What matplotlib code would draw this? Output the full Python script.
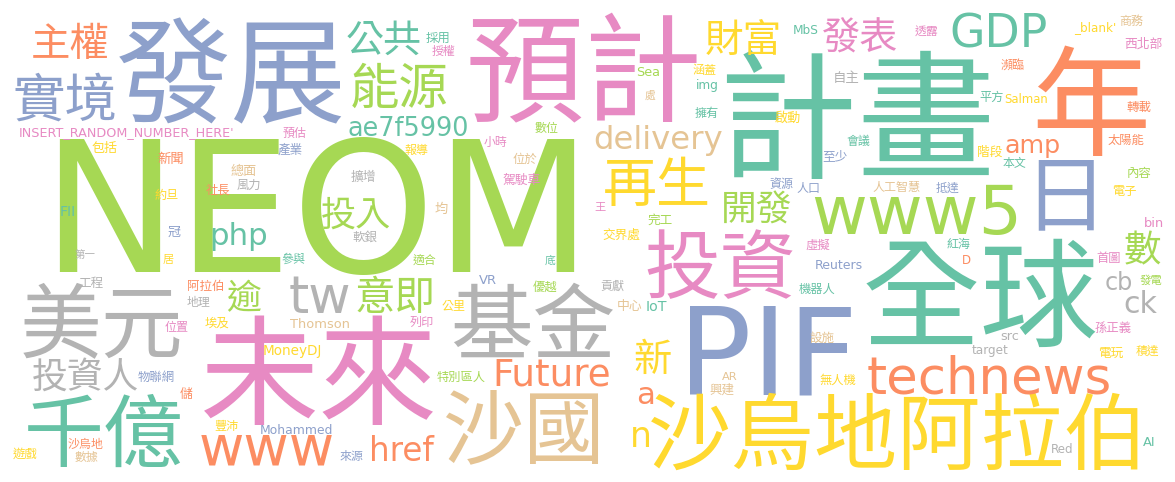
import matplotlib
matplotlib.use("Agg")
import matplotlib.pyplot as plt
from matplotlib.textpath import TextPath
from matplotlib.font_manager import FontProperties

# ---- data: words of the cloud ----
words = [
    "NEOM", "發展", "預計", "計畫", "年", "未來", "PIF", "全球", "沙烏地阿拉伯", "投資",
    "美元", "基金", "千億", "沙國", "www5", "technews", "日", "主權", "實境", "公共",
    "能源", "ae7f5990", "INSERT_RANDOM_NUMBER_HERE'", "預估", "包括", "產業", "新聞", "總面",
    "擴增", "風力", "社長", "約旦", "投入", "FII", "php", "冠", "軟銀", "第一", "居", "參與",
    "工程", "阿拉伯", "地理", "投資人", "tw", "逾", "意即", "位置", "埃及", "Thomson",
    "MoneyDJ", "物聯網", "儲", "豐沛", "Mohammed", "沙烏地", "遊戲", "數據", "來源", "www",
    "href", "適合", "底", "VR", "優越", "貢獻", "公里", "中心", "IoT", "列印", "新",
    "特別區人", "Future", "AR", "興建", "a", "n", "再生", "開發", "資源", "人口", "王",
    "完工", "交界處", "虛擬", "Reuters", "機器人", "採用", "授權", "財富", "Sea", "涵蓋",
    "img", "MbS", "處", "擁有", "啟動", "數位", "小時", "報導", "delivery", "位於",
    "駕駛車", "均", "GDP", "發表", "透露", "_blank'", "商務", "西北部", "瀕臨", "自主",
    "平方", "Salman", "轉載", "amp", "會議", "太陽能", "至少", "階段", "本文", "內容",
    "人工智慧", "抵達", "電子", "bin", "數", "紅海", "D", "首圖", "cb", "發電", "ck",
    "孫正義", "src", "設施", "target", "電玩", "積達", "無人機", "AI", "Red",
]

# ---- layout (ink box in pixels: x0, x1, y0, y1) and colour key per word ----
layout = {
    "NEOM": (40, 593, 142, 270, "G"),
    "發展": (120, 343, 71, 71, "B"),
    "預計": (470, 697, 68, 68, "P"),
    "計畫": (725, 988, 115, 115, "T"),
    "年": (1037, 1145, 100, 100, "O"),
    "未來": (204, 434, 370, 370, "P"),
    "PIF": (682, 853, 308, 392, "B"),
    "全球": (865, 1095, 293, 293, "T"),
    "沙烏地阿拉伯": (655, 1142, 431, 431, "Y"),
    "投資": (647, 793, 264, 264, "P"),
    "美元": (23, 180, 320, 320, "A"),
    "基金": (453, 613, 320, 320, "A"),
    "千億": (27, 180, 430, 430, "T"),
    "沙國": (447, 600, 427, 427, "N"),
    "www5": (805, 1028, 187, 233, "G"),
    "technews": (860, 1118, 356, 393, "O"),
    "日": (1038, 1093, 195, 195, "B"),
    "主權": (33, 108, 41, 41, "O"),
    "實境": (15, 115, 97, 97, "B"),
    "公共": (347, 420, 37, 37, "T"),
    "能源": (352, 447, 85, 85, "G"),
    "ae7f5990": (347, 470, 117, 136, "T"),
    "INSERT_RANDOM_NUMBER_HERE'": (17, 237, 127, 139, "P"),
    "預估": (283, 306, 132, 132, "P"),
    "包括": (92, 117, 147, 147, "Y"),
    "產業": (278, 302, 149, 149, "B"),
    "新聞": (158, 183, 158, 158, "O"),
    "總面": (231, 256, 170, 170, "N"),
    "擴增": (351, 375, 176, 176, "A"),
    "風力": (237, 260, 184, 184, "A"),
    "社長": (206, 230, 189, 189, "O"),
    "約旦": (155, 178, 194, 194, "Y"),
    "投入": (322, 390, 212, 212, "G"),
    "FII": (61, 75, 206, 216, "T"),
    "php": (210, 268, 222, 250, "T"),
    "冠": (168, 180, 231, 231, "B"),
    "軟銀": (353, 377, 236, 236, "A"),
    "第一": (75, 95, 254, 254, "A"),
    "居": (163, 173, 259, 259, "Y"),
    "參與": (282, 305, 258, 258, "T"),
    "工程": (79, 103, 282, 282, "A"),
    "阿拉伯": (188, 223, 285, 285, "O"),
    "地理": (187, 210, 301, 301, "A"),
    "投資人": (33, 138, 374, 374, "A"),
    "tw": (287, 352, 278, 311, "A"),
    "逾": (227, 260, 296, 296, "G"),
    "意即": (358, 433, 294, 294, "G"),
    "位置": (165, 188, 326, 326, "P"),
    "埃及": (205, 229, 322, 322, "Y"),
    "Thomson": (293, 347, 318, 329, "N"),
    "MoneyDJ": (265, 320, 345, 358, "Y"),
    "物聯網": (138, 174, 376, 376, "B"),
    "儲": (180, 192, 393, 393, "O"),
    "豐沛": (215, 238, 425, 425, "Y"),
    "Mohammed": (262, 330, 424, 434, "B"),
    "沙烏地": (68, 103, 443, 443, "O"),
    "遊戲": (13, 37, 453, 453, "Y"),
    "數據": (75, 98, 456, 456, "N"),
    "來源": (340, 363, 455, 455, "B"),
    "www": (200, 333, 434, 464, "O"),
    "href": (370, 433, 436, 461, "O"),
    "適合": (413, 436, 259, 259, "G"),
    "底": (545, 555, 260, 260, "T"),
    "VR": (479, 496, 274, 284, "B"),
    "優越": (533, 557, 286, 286, "G"),
    "貢獻": (601, 624, 285, 285, "A"),
    "公里": (442, 465, 305, 305, "Y"),
    "中心": (618, 642, 305, 305, "N"),
    "IoT": (646, 667, 301, 311, "T"),
    "列印": (410, 433, 322, 322, "P"),
    "新": (635, 670, 356, 356, "Y"),
    "特別區人": (437, 485, 376, 376, "G"),
    "Future": (492, 612, 359, 385, "O"),
    "AR": (722, 738, 372, 380, "N"),
    "興建": (710, 734, 389, 389, "N"),
    "a": (638, 653, 387, 404, "O"),
    "n": (632, 649, 428, 446, "Y"),
    "再生": (605, 708, 182, 182, "Y"),
    "開發": (723, 790, 207, 207, "G"),
    "資源": (770, 793, 183, 183, "B"),
    "人口": (797, 819, 187, 187, "B"),
    "王": (595, 605, 207, 207, "P"),
    "完工": (648, 672, 219, 219, "G"),
    "交界處": (603, 640, 234, 234, "Y"),
    "虛擬": (806, 830, 244, 244, "P"),
    "Reuters": (817, 860, 260, 270, "B"),
    "機器人": (799, 835, 288, 288, "T"),
    "採用": (427, 450, 37, 37, "T"),
    "授權": (432, 455, 50, 50, "P"),
    "財富": (707, 780, 37, 37, "Y"),
    "Sea": (638, 659, 66, 76, "G"),
    "涵蓋": (693, 716, 69, 69, "Y"),
    "img": (697, 717, 80, 92, "T"),
    "MbS": (793, 818, 25, 34, "T"),
    "處": (645, 655, 95, 95, "N"),
    "擁有": (695, 718, 112, 112, "T"),
    "啟動": (775, 800, 117, 117, "Y"),
    "數位": (535, 558, 127, 127, "G"),
    "小時": (484, 507, 141, 141, "P"),
    "報導": (405, 428, 149, 149, "Y"),
    "delivery": (600, 717, 123, 157, "N"),
    "位於": (513, 537, 158, 158, "N"),
    "駕駛車": (503, 540, 179, 179, "P"),
    "均": (435, 447, 208, 208, "N"),
    "GDP": (948, 1050, 15, 47, "T"),
    "發表": (823, 897, 35, 35, "P"),
    "透露": (915, 938, 31, 31, "P"),
    "_blank'": (1075, 1115, 22, 34, "Y"),
    "商務": (1120, 1143, 20, 20, "N"),
    "西北部": (1125, 1162, 43, 43, "P"),
    "瀕臨": (1001, 1024, 65, 65, "O"),
    "自主": (834, 858, 77, 77, "A"),
    "平方": (980, 1003, 96, 96, "T"),
    "Salman": (1005, 1047, 94, 103, "Y"),
    "轉載": (1127, 1151, 106, 106, "O"),
    "amp": (1005, 1060, 139, 158, "O"),
    "會議": (847, 870, 140, 140, "T"),
    "太陽能": (1108, 1144, 139, 139, "O"),
    "至少": (823, 847, 155, 155, "B"),
    "階段": (978, 1002, 151, 151, "Y"),
    "本文": (1003, 1026, 162, 162, "T"),
    "內容": (1128, 1151, 172, 172, "G"),
    "人工智慧": (873, 920, 186, 186, "N"),
    "抵達": (936, 959, 187, 187, "B"),
    "電子": (1113, 1136, 191, 191, "Y"),
    "bin": (1145, 1163, 217, 227, "P"),
    "數": (1125, 1160, 248, 248, "G"),
    "紅海": (947, 970, 243, 243, "T"),
    "D": (963, 970, 255, 264, "O"),
    "首圖": (1097, 1120, 257, 257, "P"),
    "cb": (1105, 1133, 273, 290, "A"),
    "發電": (1140, 1162, 280, 280, "G"),
    "ck": (1123, 1157, 291, 313, "A"),
    "孫正義": (1095, 1131, 327, 327, "P"),
    "src": (1002, 1018, 332, 340, "A"),
    "設施": (810, 834, 337, 337, "N"),
    "target": (974, 1007, 345, 357, "A"),
    "電玩": (1099, 1123, 352, 352, "Y"),
    "積達": (1136, 1159, 350, 350, "Y"),
    "無人機": (820, 856, 379, 379, "Y"),
    "AI": (1143, 1155, 437, 446, "T"),
    "Red": (1052, 1073, 444, 453, "A"),
}

palette = {
    "T": "#66c2a5", "O": "#fc8d62", "B": "#8da0cb", "P": "#e78ac3",
    "G": "#a6d854", "Y": "#ffd92f", "N": "#e5c494", "A": "#b3b3b3",
}

W, H, DPI = 1175, 482, 100
CJK_FAM = ["Noto Sans CJK TC", "DejaVu Sans"]
LAT_FAM = ["DejaVu Sans"]

fig = plt.figure(figsize=(W / DPI, H / DPI), dpi=DPI)
fig.patch.set_facecolor("white")
ax = fig.add_axes([0, 0, 1, 1])
ax.set_xlim(0, W)
ax.set_ylim(H, 0)
ax.axis("off")


def has_cjk(s):
    return any(ord(c) > 0x2E80 for c in s)


for w in words:
    x0, x1, y0, y1, ck = layout[w]
    cjk = has_cjk(w)
    fam = CJK_FAM if cjk else LAT_FAM
    fp = FontProperties(family=fam)
    ext = TextPath((0, 0), w, size=1, prop=fp).get_extents()
    sw = (x1 - x0) / ext.width
    if cjk or y1 <= y0:
        s = sw
    else:
        sh = (y1 - y0) / ext.height
        s = (sw * sh) ** 0.5
    cx = (x0 + x1) / 2
    cy = (y0 + y1) / 2
    by = cy + s * (ext.y0 + ext.y1) / 2
    ax.text(cx, by, w, fontsize=s * 72 / DPI, family=fam, color=palette[ck],
            ha="center", va="baseline")

fig.savefig("out.png", dpi=DPI, facecolor="white")
